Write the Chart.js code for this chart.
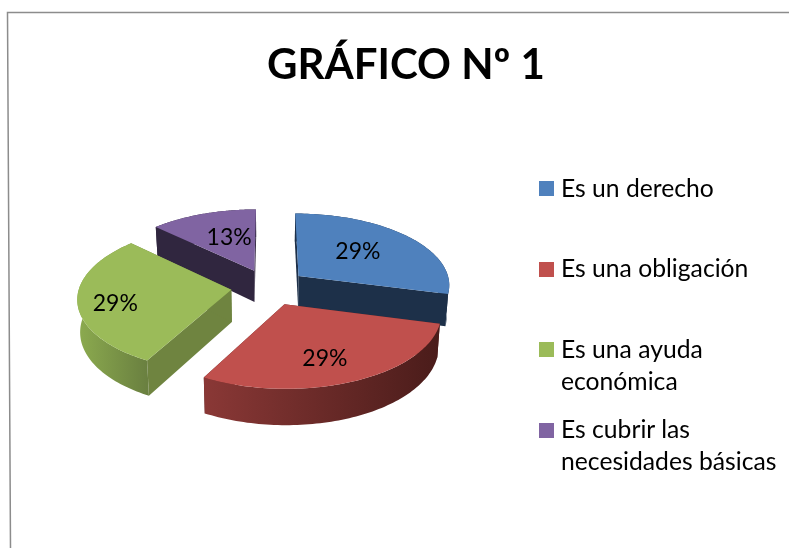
<!DOCTYPE html>
<html>
<head>
<meta charset="utf-8">
<script src="https://cdn.jsdelivr.net/npm/chart.js@4"></script>
<style>
  body { margin: 0; background: #fff; font-family: Lato, sans-serif; color: #000; }
  #wrap { position: relative; width: 789px; height: 548px; overflow: hidden; }
  #title { position: absolute; left: 0; top: 35px; width: 812px; text-align: center; font-size: 42px; font-weight: 700; line-height: 56px; }
  .item { position: absolute; left: 539px; font-size: 24.7px; line-height: 32px; white-space: nowrap; }
  .item i { position: absolute; left: 0; top: 8px; width: 15px; height: 15px; }
  .item span { display: block; position: relative; top: -1.5px; margin-left: 22px; }
</style>
</head>
<body>
<div id="wrap">
  <canvas id="pieChart" width="789" height="548"></canvas>
  <div id="title"></div>
</div>
<script>
const chartTitle = "GRÁFICO Nº 1";
const categories = [
  ["Es un derecho"],
  ["Es una obligación"],
  ["Es una ayuda", "económica"],
  ["Es cubrir las", "necesidades básicas"],
];
const values = [29, 29, 29, 13];
const topColors = ["#4f81bd", "#c0504d", "#9bbb59", "#8064a2"];
const faceColors = ["#1d3049", "#5a2220", "#6f8440", "#30263f"];
const sideStops = [
  ["#1d3049", "#1d3049"],
  ["#8a3836", "#4a1c1a"],
  ["#8cab4f", "#6a8040"],
  ["#30263f", "#30263f"],
];
// how far out on the slice each label sits, plus a small nudge
const labelRadius = [0.55, 0.7, 0.75, 0.5];
const labelNudge = [[-2, -2], [-7, 2], [-1, 5], [2, -3]];
const drawOrder = [3, 0, 2, 1];

const squash = 0.48;
const tilt = 0.11;
const depth = 32;

function project(arc, angle, r, off, mid) {
  const u = r * Math.cos(angle) + off * Math.cos(mid);
  const v = r * Math.sin(angle) + off * Math.sin(mid);
  const s = 1 + (tilt * v) / arc.outerRadius;
  return { x: arc.x + u * s, y: arc.y + v * squash * s, s: s };
}

function lower(arc, p) {
  return { x: arc.x + (p.x - arc.x) * 0.985, y: p.y + depth * p.s };
}

function quad(ctx, a, b, c, d, fill) {
  ctx.fillStyle = fill;
  ctx.beginPath();
  ctx.moveTo(a.x, a.y);
  ctx.lineTo(b.x, b.y);
  ctx.lineTo(c.x, c.y);
  ctx.lineTo(d.x, d.y);
  ctx.closePath();
  ctx.fill();
}

const pie3d = {
  id: "pie3d",
  beforeDraw(chart) {
    // frame of the pasted picture, it leans a little
    const ctx = chart.ctx;
    ctx.save();
    ctx.strokeStyle = "#8c8c8c";
    ctx.lineWidth = 1.5;
    ctx.beginPath();
    ctx.moveTo(789, 12.5);
    ctx.lineTo(7.5, 12.5);
    ctx.lineTo(10.5, 548);
    ctx.stroke();
    ctx.restore();
  },
  beforeDatasetDraw(chart, args) {
    const ctx = chart.ctx;
    const arcs = chart.getDatasetMeta(args.index).data;
    ctx.save();
    drawOrder.forEach((i) => {
      const el = arcs[i];
      const arc = el.getProps(["x", "y", "startAngle", "endAngle", "outerRadius"]);
      const off = el.options.offset;
      const mid = (arc.startAngle + arc.endAngle) / 2;
      const apex = project(arc, 0, 0, off, mid);
      const rim = [];
      for (let k = 0; k <= 80; k++) {
        const a = arc.startAngle + ((arc.endAngle - arc.startAngle) * k) / 80;
        rim.push(project(arc, a, arc.outerRadius, off, mid));
      }
      const first = rim[0];
      const last = rim[rim.length - 1];

      // flat faces
      quad(ctx, apex, first, lower(arc, first), lower(arc, apex), faceColors[i]);
      quad(ctx, apex, last, lower(arc, last), lower(arc, apex), faceColors[i]);

      // outer wall
      const xs = rim.map((p) => p.x);
      const grad = ctx.createLinearGradient(Math.min(...xs), 0, Math.max(...xs), 0);
      grad.addColorStop(0, sideStops[i][0]);
      grad.addColorStop(1, sideStops[i][1]);
      ctx.fillStyle = grad;
      ctx.beginPath();
      rim.forEach((p, k) => (k ? ctx.lineTo(p.x, p.y) : ctx.moveTo(p.x, p.y)));
      rim.slice().reverse().forEach((p) => {
        const q = lower(arc, p);
        ctx.lineTo(q.x, q.y);
      });
      ctx.closePath();
      ctx.fill();

      // top
      ctx.fillStyle = topColors[i];
      ctx.beginPath();
      ctx.moveTo(apex.x, apex.y);
      rim.forEach((p) => ctx.lineTo(p.x, p.y));
      ctx.closePath();
      ctx.fill();
    });

    ctx.fillStyle = "#000";
    ctx.font = "23px Lato";
    ctx.textAlign = "center";
    ctx.textBaseline = "middle";
    arcs.forEach((el, i) => {
      const arc = el.getProps(["x", "y", "startAngle", "endAngle", "outerRadius"]);
      const mid = (arc.startAngle + arc.endAngle) / 2;
      const p = project(arc, mid, arc.outerRadius * labelRadius[i], el.options.offset, mid);
      ctx.fillText(values[i] + "%", p.x + labelNudge[i][0], p.y + labelNudge[i][1]);
    });
    ctx.restore();
    return false;
  },
};

new Chart(document.getElementById("pieChart"), {
  type: "pie",
  data: {
    labels: categories.map((c) => c.join(" ")),
    datasets: [
      {
        data: values,
        backgroundColor: topColors,
        borderWidth: 0,
        offset: 38,
      },
    ],
  },
  options: {
    responsive: false,
    animation: false,
    radius: 152,
    layout: { padding: { left: 69, right: 320, top: 87, bottom: 61 } },
    plugins: { legend: { display: false }, tooltip: { enabled: false } },
  },
  plugins: [pie3d],
});

document.getElementById("title").textContent = chartTitle;
const wrap = document.getElementById("wrap");
categories.forEach((lines, i) => {
  const item = document.createElement("div");
  item.className = "item";
  item.style.top = 173 + i * 80.5 + "px";
  const box = document.createElement("i");
  box.style.background = topColors[i];
  const text = document.createElement("span");
  text.innerHTML = lines.join("<br>");
  item.append(box, text);
  wrap.append(item);
});
</script>
</body>
</html>
